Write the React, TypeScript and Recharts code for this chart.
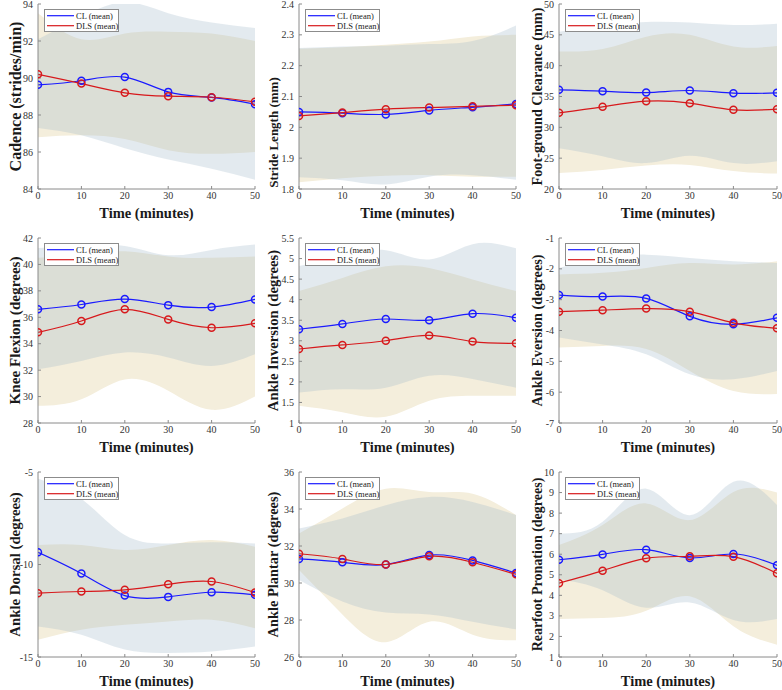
import React from 'react';
import { ComposedChart, Area, Line, XAxis, YAxis, Legend } from 'recharts';

const minutes = [0, 10, 20, 30, 40, 50];

// Cadence
const cadClMean = [89.63, 89.85, 90.05, 89.25, 88.95, 88.58];
const cadClUp = [92.1, 93.3, 94.1, 93.5, 93.0, 92.7];
const cadClLo = [87.3, 86.9, 86.2, 85.6, 85.1, 84.5];
const cadDlsMean = [90.2, 89.7, 89.2, 89.02, 88.96, 88.71];
const cadDlsUp = [93.5, 92.1, 92.4, 92.5, 92.4, 92.0];
const cadDlsLo = [86.8, 86.9, 86.7, 86.1, 85.9, 86.0];

// Stride Length
const strClMean = [2.05, 2.046, 2.042, 2.055, 2.065, 2.076];
const strClUp = [2.257, 2.262, 2.265, 2.27, 2.28, 2.33];
const strClLo = [1.838, 1.828, 1.815, 1.84, 1.845, 1.83];
const strDlsMean = [2.037, 2.048, 2.059, 2.064, 2.068, 2.072];
const strDlsUp = [2.255, 2.26, 2.268, 2.278, 2.295, 2.3];
const strDlsLo = [1.822, 1.835, 1.843, 1.845, 1.84, 1.84];

// Foot-ground Clearance
const fgcClMean = [36.08, 35.86, 35.64, 35.97, 35.54, 35.59];
const fgcClUp = [45.5, 46.6, 47.1, 47.0, 46.6, 46.8];
const fgcClLo = [26.6, 25.3, 24.2, 25.4, 24.2, 24.5];
const fgcDlsMean = [32.35, 33.32, 34.24, 33.92, 32.84, 32.95];
const fgcDlsUp = [42.3, 42.7, 44.7, 45.0, 43.1, 43.2];
const fgcDlsLo = [22.6, 23.1, 23.8, 23.9, 22.9, 22.5];

// Knee Flexion
const knClMean = [36.6, 36.97, 37.38, 36.92, 36.77, 37.35];
const knClUp = [41.25, 41.37, 41.4, 40.7, 41.1, 41.5];
const knClLo = [32.07, 32.7, 33.33, 32.95, 32.32, 33.2];
const knDlsMean = [34.86, 35.72, 36.6, 35.84, 35.21, 35.54];
const knDlsUp = [40.5, 40.75, 41.0, 40.6, 40.5, 40.6];
const knDlsLo = [29.3, 29.8, 31.3, 30.44, 29.0, 30.0];

// Ankle Inversion
const invClMean = [3.28, 3.41, 3.53, 3.5, 3.66, 3.56];
const invClUp = [4.82, 5.05, 5.2, 4.98, 5.35, 5.25];
const invClLo = [1.74, 1.82, 1.86, 2.15, 2.07, 1.86];
const invDlsMean = [2.8, 2.9, 3.0, 3.13, 2.98, 2.94];
const invDlsUp = [4.21, 4.53, 4.81, 4.77, 4.49, 4.21];
const invDlsLo = [1.42, 1.26, 1.15, 1.54, 1.66, 1.66];

// Ankle Eversion
const evClMean = [-2.85, -2.9, -2.96, -3.54, -3.8, -3.59];
const evClUp = [-1.97, -1.65, -1.54, -1.65, -1.75, -1.81];
const evClLo = [-4.23, -4.45, -4.77, -5.42, -5.58, -5.31];
const evDlsMean = [-3.39, -3.34, -3.29, -3.39, -3.75, -3.93];
const evDlsUp = [-2.18, -2.13, -1.97, -1.81, -1.86, -1.75];
const evDlsLo = [-4.55, -4.5, -4.6, -5.31, -5.96, -6.06];

// Ankle Dorsal
const dorClMean = [-9.34, -10.49, -11.68, -11.75, -11.5, -11.64];
const dorClUp = [-5.36, -6.44, -8.41, -8.86, -8.8, -8.86];
const dorClLo = [-13.35, -13.8, -14.6, -14.78, -14.7, -14.43];
const dorDlsMean = [-11.55, -11.46, -11.37, -11.07, -10.92, -11.52];
const dorDlsUp = [-8.95, -8.95, -9.22, -8.95, -8.68, -9.04];
const dorDlsLo = [-14.07, -13.53, -13.26, -13.08, -12.99, -13.44];

// Ankle Plantar
const plaClMean = [31.3, 31.12, 31.0, 31.51, 31.22, 30.54];
const plaClUp = [32.95, 33.49, 34.2, 34.65, 34.38, 33.67];
const plaClLo = [30.16, 29.0, 28.4, 28.3, 27.9, 27.5];
const plaDlsMean = [31.58, 31.3, 31.0, 31.44, 31.12, 30.47];
const plaDlsUp = [32.68, 34.03, 35.1, 34.92, 34.83, 33.67];
const plaDlsLo = [30.7, 28.3, 26.8, 27.9, 27.2, 26.9];

// Rearfoot Pronation
const rpClMean = [5.73, 5.99, 6.22, 5.82, 6.01, 5.46];
const rpClUp = [7.01, 7.58, 9.19, 7.9, 9.52, 8.4];
const rpClLo = [4.8, 4.25, 3.4, 3.65, 2.8, 2.85];
const rpDlsMean = [4.59, 5.2, 5.8, 5.9, 5.88, 5.07];
const rpDlsUp = [6.45, 7.42, 8.47, 7.66, 9.03, 9.0];
const rpDlsLo = [2.85, 2.9, 3.25, 3.95, 2.5, 1.6];

const legendLabels = ['CL (mean)', 'DLS (mean)'];
const xLabel = 'Time (minutes)';

type PanelDef = {
  yLabel: string;
  yLabelSize: number;
  yLabelShift: number;
  domain: [number, number];
  ticks: number[];
  clMean: number[]; clUp: number[]; clLo: number[];
  dlsMean: number[]; dlsUp: number[]; dlsLo: number[];
};

const panels: PanelDef[] = [
  { yLabel: 'Cadence (strides/min)', yLabelSize: 16, yLabelShift: 0, domain: [84, 94], ticks: [84, 86, 88, 90, 92, 94],
    clMean: cadClMean, clUp: cadClUp, clLo: cadClLo, dlsMean: cadDlsMean, dlsUp: cadDlsUp, dlsLo: cadDlsLo },
  { yLabel: 'Stride Length (mm)', yLabelSize: 13, yLabelShift: 36, domain: [1.8, 2.4], ticks: [1.8, 1.9, 2, 2.1, 2.2, 2.3, 2.4],
    clMean: strClMean, clUp: strClUp, clLo: strClLo, dlsMean: strDlsMean, dlsUp: strDlsUp, dlsLo: strDlsLo },
  { yLabel: 'Foot-ground Clearance (mm)', yLabelSize: 14.2, yLabelShift: 0, domain: [20, 50], ticks: [20, 25, 30, 35, 40, 45, 50],
    clMean: fgcClMean, clUp: fgcClUp, clLo: fgcClLo, dlsMean: fgcDlsMean, dlsUp: fgcDlsUp, dlsLo: fgcDlsLo },
  { yLabel: 'Knee Flexion (degrees)', yLabelSize: 15.2, yLabelShift: 0, domain: [28, 42], ticks: [28, 30, 32, 34, 36, 38, 40, 42],
    clMean: knClMean, clUp: knClUp, clLo: knClLo, dlsMean: knDlsMean, dlsUp: knDlsUp, dlsLo: knDlsLo },
  { yLabel: 'Ankle Inversion (degrees)', yLabelSize: 14.7, yLabelShift: 0, domain: [1, 5.5], ticks: [1, 1.5, 2, 2.5, 3, 3.5, 4, 4.5, 5, 5.5],
    clMean: invClMean, clUp: invClUp, clLo: invClLo, dlsMean: invDlsMean, dlsUp: invDlsUp, dlsLo: invDlsLo },
  { yLabel: 'Ankle Eversion (degrees)', yLabelSize: 14.2, yLabelShift: 0, domain: [-7, -1], ticks: [-7, -6, -5, -4, -3, -2, -1],
    clMean: evClMean, clUp: evClUp, clLo: evClLo, dlsMean: evDlsMean, dlsUp: evDlsUp, dlsLo: evDlsLo },
  { yLabel: 'Ankle Dorsal (degrees)', yLabelSize: 14.8, yLabelShift: 0, domain: [-15, -5], ticks: [-15, -10, -5],
    clMean: dorClMean, clUp: dorClUp, clLo: dorClLo, dlsMean: dorDlsMean, dlsUp: dorDlsUp, dlsLo: dorDlsLo },
  { yLabel: 'Ankle Plantar (degrees)', yLabelSize: 14.4, yLabelShift: 0, domain: [26, 36], ticks: [26, 28, 30, 32, 34, 36],
    clMean: plaClMean, clUp: plaClUp, clLo: plaClLo, dlsMean: plaDlsMean, dlsUp: plaDlsUp, dlsLo: plaDlsLo },
  { yLabel: 'Rearfoot Pronation (degrees)', yLabelSize: 14, yLabelShift: 0, domain: [1, 10], ticks: [1, 2, 3, 4, 5, 6, 7, 8, 9, 10],
    clMean: rpClMean, clUp: rpClUp, clLo: rpClLo, dlsMean: rpDlsMean, dlsUp: rpDlsUp, dlsLo: rpDlsLo },
];

const FONT = "'Liberation Serif', 'Times New Roman', serif";
const CL_COLOR = '#1a1aff';
const DLS_COLOR = '#d7191c';
const CL_FILL = '#a3b9c9';
const CL_FILL_OPACITY = 0.3;
const DLS_FILL = '#f4eedc';
const AXIS_COLOR = '#8a8a8a';

const colPlotLeft = [38, 299, 559];
const colPlotW = [217, 217, 218];
const colYOffset = [23, 26, 22];
const rowPlotTop = [4, 238, 472];
const PLOT_H = 185;
const MT = 6;
const MR = 8;
const XH = 48;

function LegendBox() {
  return (
    <svg width={75} height={23} style={{ display: 'block' }}>
      <rect x={0.5} y={0.5} width={74} height={22} fill="#ffffff" stroke="#8c8c8c" strokeWidth={1} />
      <line x1={3} y1={6.7} x2={30} y2={6.7} stroke={CL_COLOR} strokeWidth={1.2} />
      <text x={32} y={9.6} fontSize={8.5} fontFamily={FONT} fill="#222">{legendLabels[0]}</text>
      <line x1={3} y1={16.7} x2={30} y2={16.7} stroke={DLS_COLOR} strokeWidth={1.2} />
      <text x={32} y={19.6} fontSize={8.5} fontFamily={FONT} fill="#222">{legendLabels[1]}</text>
    </svg>
  );
}

function Panel({ p, col, row }: { p: PanelDef; col: number; row: number }) {
  const shifted = p.yLabelShift !== 0;
  const d = colYOffset[col];
  const yw = shifted ? Math.round(2 * (d - 0.33 * p.yLabelSize)) : d * 2;
  const plotW = colPlotW[col];
  const width = yw + plotW + MR;
  const height = MT + PLOT_H + XH;
  const left = colPlotLeft[col] - yw;
  const top = rowPlotTop[row] - MT;
  const data = minutes.map((m, i) => ({
    m,
    clMean: p.clMean[i],
    dlsMean: p.dlsMean[i],
    clBand: [p.clLo[i], p.clUp[i]],
    dlsBand: [p.dlsLo[i], p.dlsUp[i]],
  }));
  const labelBase = { value: p.yLabel, angle: -90, fontSize: p.yLabelSize, fontWeight: 'bold', fill: '#1a1a1a', fontFamily: FONT };
  const yLabelProps = shifted
    ? { ...labelBase, position: 'insideBottom', offset: PLOT_H / 2 - p.yLabelShift }
    : { ...labelBase, position: 'center' };
  return (
    <div style={{ position: 'absolute', left, top, width, height }}>
      <ComposedChart width={width} height={height} data={data} margin={{ top: MT, right: MR, bottom: 0, left: 0 }}>
        <XAxis
          dataKey="m"
          type="number"
          domain={[0, 50]}
          ticks={minutes}
          allowDataOverflow
          height={XH}
          stroke={AXIS_COLOR}
          tickSize={-3}
          tickMargin={6}
          tick={{ fontSize: 10, fill: '#333', fontFamily: FONT }}
          label={{ value: xLabel, position: 'center', fontSize: 14.5, fontWeight: 'bold', fill: '#1a1a1a', fontFamily: FONT }}
        />
        <YAxis
          type="number"
          domain={p.domain}
          ticks={p.ticks}
          allowDataOverflow
          width={yw}
          stroke={AXIS_COLOR}
          tickSize={-3}
          tickMargin={8}
          interval={0}
          tick={{ fontSize: 10, fill: '#333', fontFamily: FONT }}
          label={yLabelProps as any}
        />
        <Area dataKey="dlsBand" type="natural" stroke="none" fill={DLS_FILL} fillOpacity={1} isAnimationActive={false} dot={false} activeDot={false} />
        <Area dataKey="clBand" type="natural" stroke="none" fill={CL_FILL} fillOpacity={CL_FILL_OPACITY} isAnimationActive={false} dot={false} activeDot={false} />
        <Line dataKey="clMean" type="natural" stroke={CL_COLOR} strokeWidth={1.2} isAnimationActive={false}
          dot={{ r: 3.5, fill: 'none', stroke: CL_COLOR, strokeWidth: 1.5 }} activeDot={false} />
        <Line dataKey="dlsMean" type="natural" stroke={DLS_COLOR} strokeWidth={1.2} isAnimationActive={false}
          dot={{ r: 3.5, fill: 'none', stroke: DLS_COLOR, strokeWidth: 1.5 }} activeDot={false} />
        <Legend
          layout="horizontal"
          verticalAlign="middle"
          align="center"
          wrapperStyle={{ left: yw + 6, top: MT + 5, width: 75, height: 23 }}
          content={() => <LegendBox />}
        />
      </ComposedChart>
    </div>
  );
}

export default function App() {
  return (
    <div style={{ position: 'absolute', left: 0, top: 0, width: 782, height: 690, background: '#ffffff', overflow: 'hidden' }}>
      {panels.map((p, i) => (
        <Panel key={i} p={p} col={i % 3} row={Math.floor(i / 3)} />
      ))}
    </div>
  );
}
